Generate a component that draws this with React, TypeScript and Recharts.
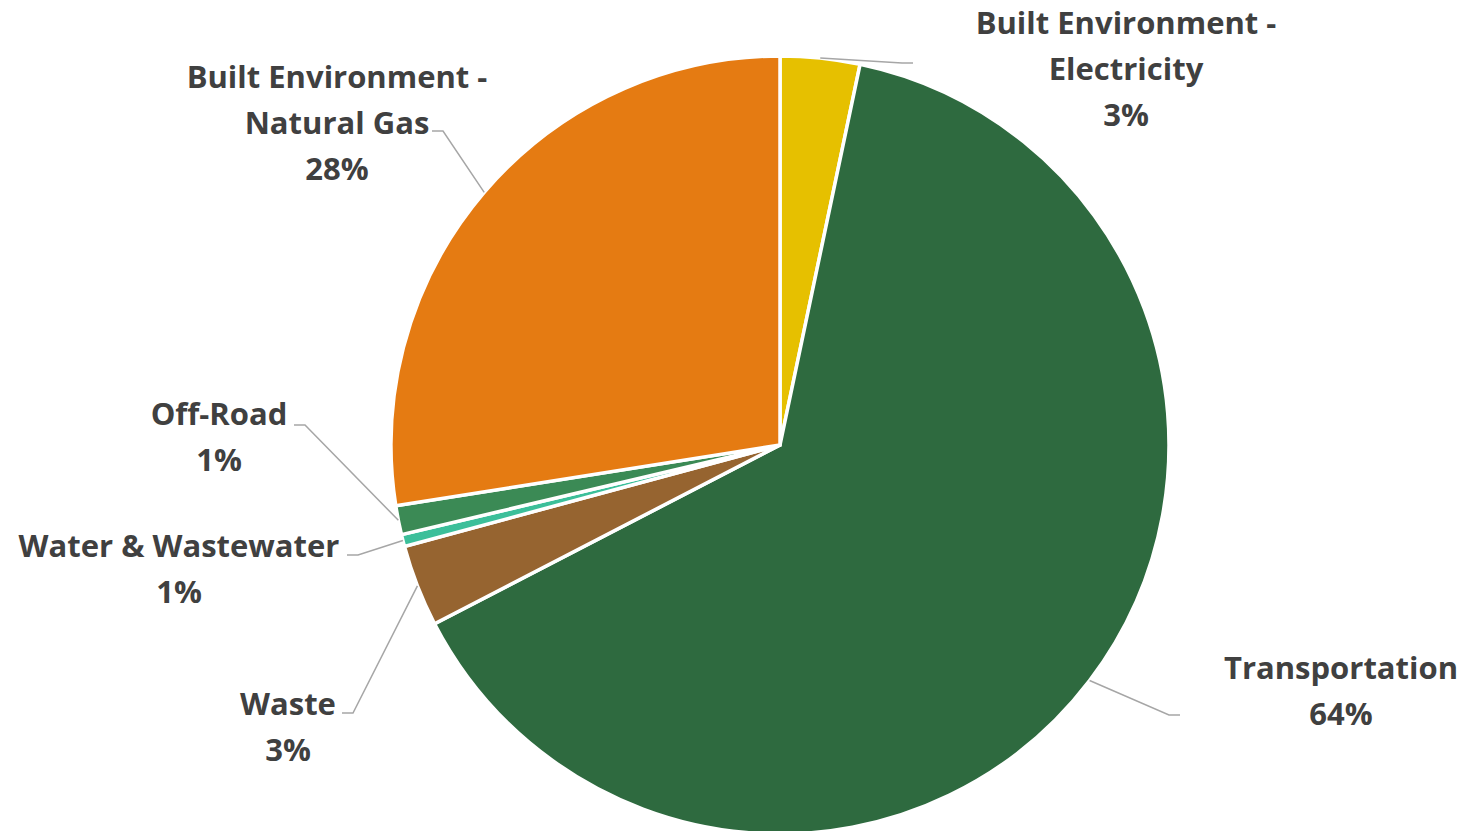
import { PieChart, Pie, Cell } from 'recharts';

const categories = [
  'Built Environment - Electricity',
  'Transportation',
  'Waste',
  'Water & Wastewater',
  'Off-Road',
  'Built Environment - Natural Gas',
];
const shares = [3.3, 64.1, 3.4, 0.5, 1.2, 27.5];
const labelLines = [
  ['Built Environment -', 'Electricity'],
  ['Transportation'],
  ['Waste'],
  ['Water & Wastewater'],
  ['Off-Road'],
  ['Built Environment -', 'Natural Gas'],
];

const colors = ['#E6C000', '#2E6A3F', '#966430', '#3CBF9A', '#3B8A55', '#E57B12'];

// label placement relative to the pie centre: end of leader line, text centre, first line y
const labelLayout = [
  { ex: 133, ey: -382, side: 1, tx: 346, ty: -423 },
  { ex: 400, ey: 270, side: 1, tx: 561, ty: 222 },
  { ex: -438, ey: 268, side: -1, tx: -492, ty: 258 },
  { ex: -433, ey: 110, side: -1, tx: -601, ty: 100 },
  { ex: -486, ey: -20, side: -1, tx: -561, ty: -32 },
  { ex: -348, ey: -314, side: -1, tx: -443, ty: -369 },
];

const data = categories.map((name, i) => ({ name, value: shares[i] }));

const RAD = Math.PI / 180;
const LINE_H = 46;

function renderLabel(props: any) {
  const { cx, cy, midAngle, outerRadius, percent, index } = props;
  const lay = labelLayout[index];
  const sx = cx + outerRadius * Math.cos(-midAngle * RAD);
  const sy = cy + outerRadius * Math.sin(-midAngle * RAD);
  const ex = cx + lay.ex;
  const ey = cy + lay.ey;
  const bx = ex - lay.side * 11;
  const lines = [...labelLines[index], `${Math.round(percent * 100 + 1e-9)}%`];
  return (
    <g key={`lbl-${index}`}>
      <polyline
        points={`${sx},${sy} ${bx},${ey} ${ex},${ey}`}
        fill="none"
        stroke="#A6A6A6"
        strokeWidth={1.5}
      />
      {lines.map((t, k) => (
        <text
          key={k}
          x={cx + lay.tx}
          y={cy + lay.ty + k * LINE_H}
          textAnchor="middle"
          dominantBaseline="central"
          fill="#404040"
          fontFamily="'Open Sans', Lato, sans-serif"
          fontWeight={700}
          fontSize={31}
        >
          {t}
        </text>
      ))}
    </g>
  );
}

export default function App() {
  return (
    <div style={{ position: 'absolute', left: 0, top: 0, width: 1466, height: 831, background: '#fff' }}>
      <PieChart width={1466} height={831} margin={{ top: 0, right: 0, bottom: 0, left: 0 }}>
        <Pie
          data={data}
          dataKey="value"
          nameKey="name"
          cx={780}
          cy={445}
          outerRadius={389}
          startAngle={90}
          endAngle={-270}
          stroke="#FFFFFF"
          strokeWidth={3.5}
          label={renderLabel}
          labelLine={false}
          isAnimationActive={false}
        >
          {data.map((d, i) => (
            <Cell key={d.name} fill={colors[i]} />
          ))}
        </Pie>
      </PieChart>
    </div>
  );
}
